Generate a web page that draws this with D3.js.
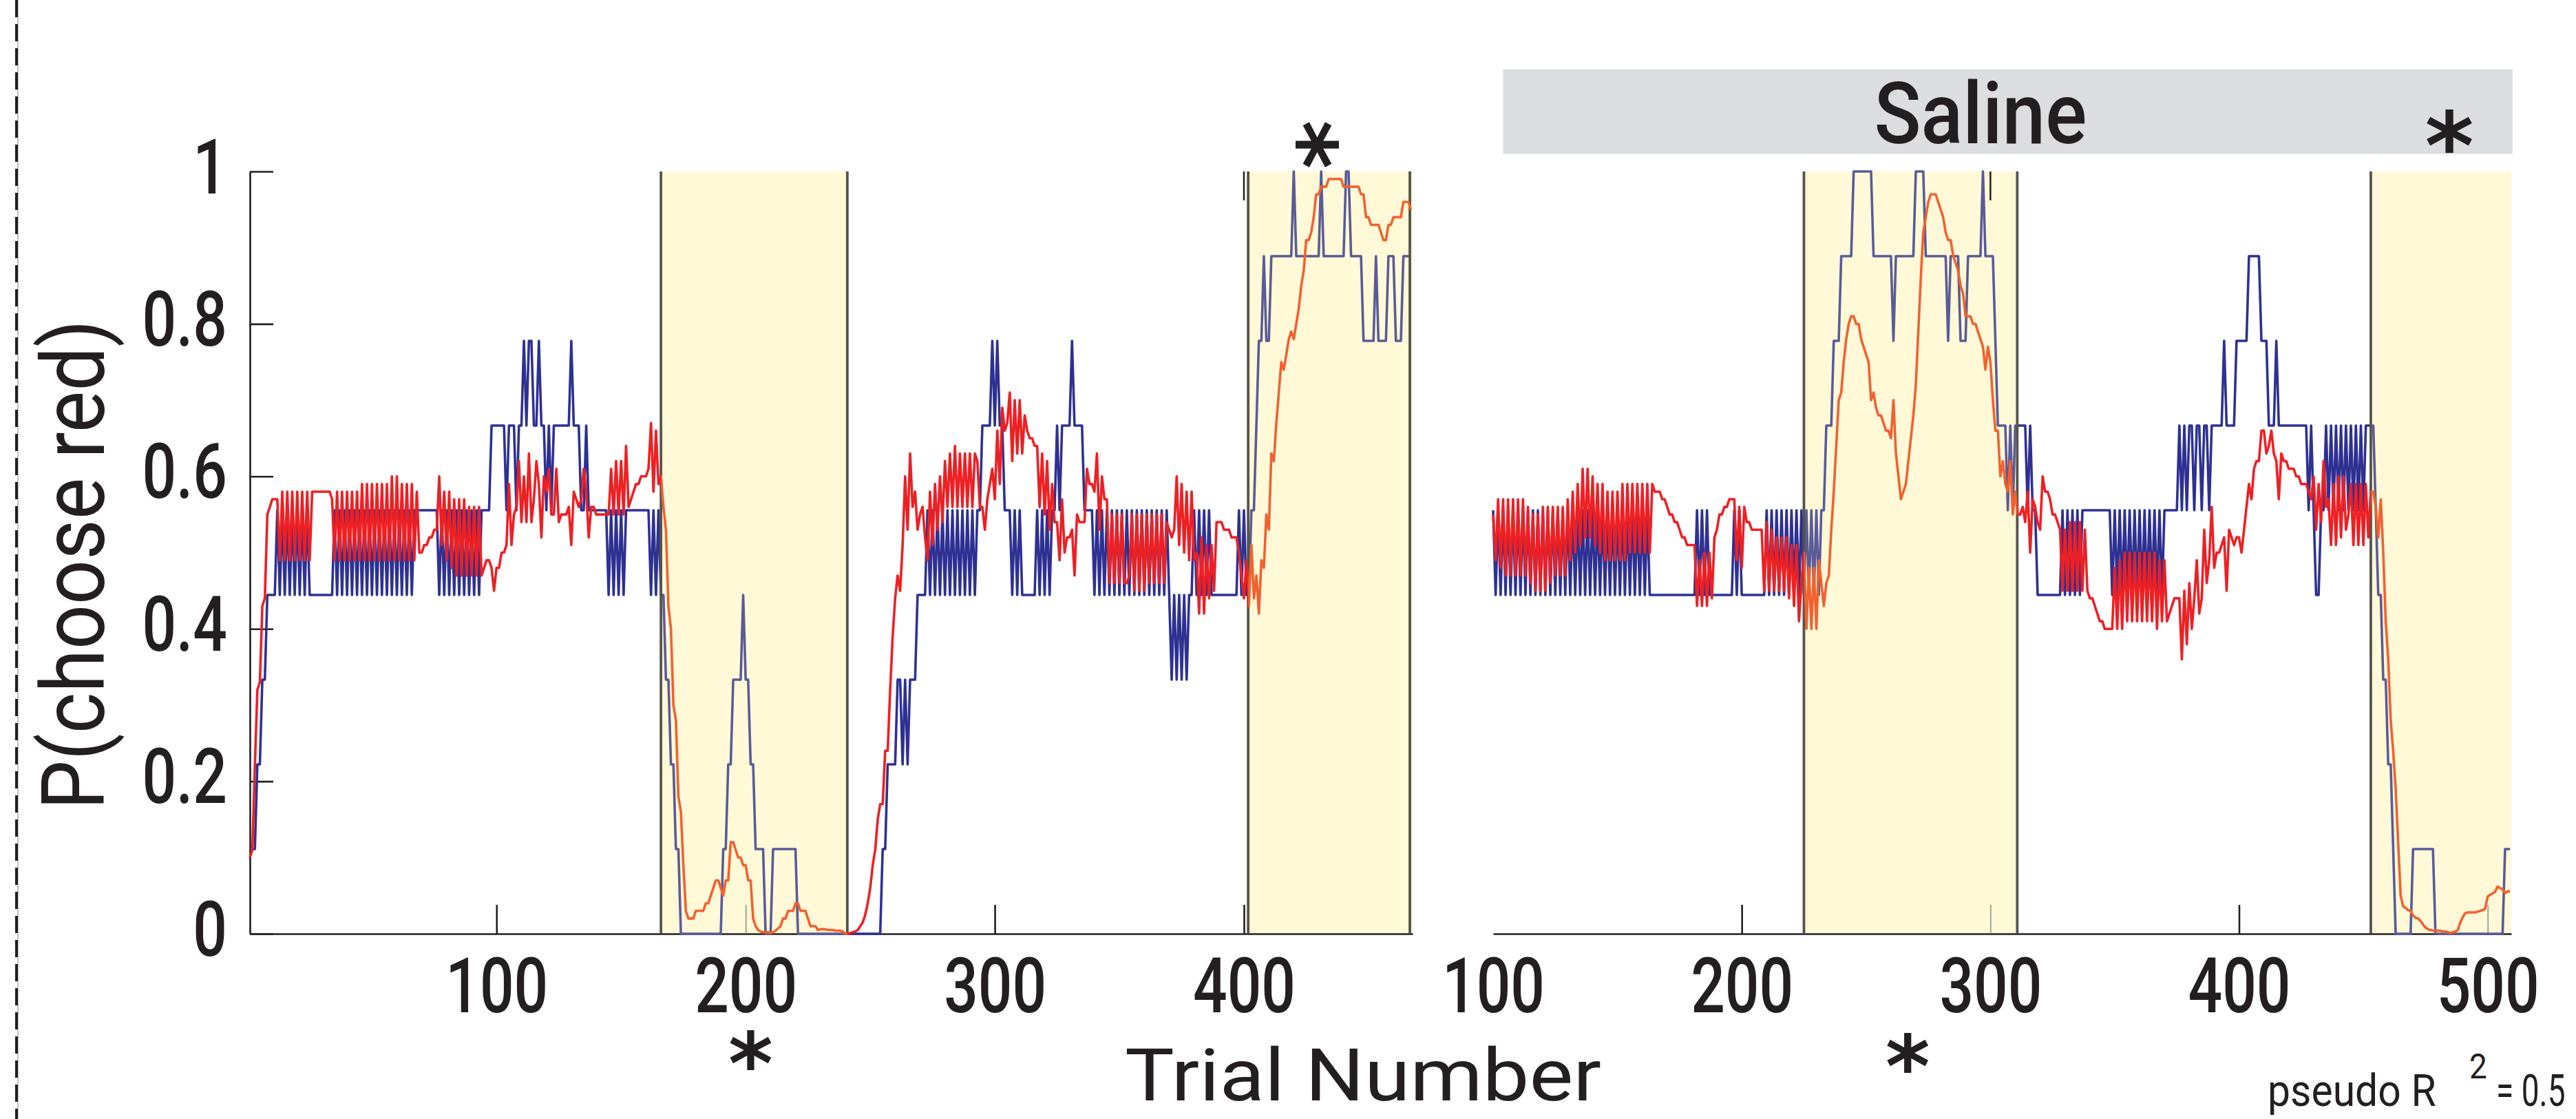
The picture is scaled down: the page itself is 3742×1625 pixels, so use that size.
<!DOCTYPE html>
<html>
<head>
<meta charset="utf-8">
<script src="https://d3js.org/d3.v7.min.js"></script>
<style>
body { margin: 0; background: #fff; }
svg { display: block; font-family: Roboto, "Liberation Sans", sans-serif; }
.axis path, .axis line { stroke: #231f20; stroke-width: 2.6; }
.axis text { fill: #231f20; font-size: 112px; font-weight: 500; font-family: Roboto, sans-serif; }
.lbl { fill: #231f20; }
</style>
</head>
<body>
<svg id="chart" width="3742" height="1625"></svg>
<script>
// ---- data: one value per trial ----
// choice frequency (blue), in ninths
var leftStart = 1;
var leftChoice = [
  1,1,1,2,2,3,3,4,4,4, 4,5,4,5,4,5,4,5,4,5, 4,5,4,5,4,4,4,4,4,4, 4,4,4,4,5,4,5,4,5,4,
  5,4,5,4,5,4,5,4,5,4, 5,4,5,4,5,4,5,4,5,4, 5,4,5,4,5,4,5,5,5,5, 5,5,5,5,5,5,4,5,4,5,
  4,5,4,5,4,5,4,5,4,5, 4,5,4,5,5,5,5,6,6,6, 6,6,6,5,6,6,6,5,6,6, 7,6,7,7,6,6,7,6,6,5,
  6,5,6,6,6,6,6,6,6,7, 6,6,6,5,5,6,5,5,5,5, 5,5,5,5,4,5,4,5,4,5, 4,5,5,5,5,5,5,5,5,5,
  5,4,5,4,5,4,4,3,3,2, 2,1,1,0,0,0,0,0,0,0, 0,0,0,0,0,0,0,0,0,0, 1,1,2,2,3,3,3,3,4,3,
  3,2,2,1,1,1,1,0,0,0, 1,1,1,1,1,1,1,1,1,1, 0,0,0,0,0,0,0,0,0,0, 0,0,0,0,0,0,0,0,0,0,
  0,0,0,0,0,0,0,0,0,0, 0,0,0,0,1,1,2,2,2,2, 3,3,2,3,2,3,3,3,4,4, 4,4,5,4,5,4,5,4,5,4,
  5,4,5,4,5,4,5,4,5,4, 5,4,5,5,6,6,6,6,7,6, 7,6,6,5,5,5,4,5,4,5, 4,4,4,4,4,4,5,4,5,4,
  5,4,5,5,6,5,6,6,6,6, 7,6,6,6,6,5,5,5,5,4, 5,4,5,4,5,4,5,4,5,4, 5,4,5,4,5,4,5,4,5,4,
  5,4,5,4,5,4,5,4,5,4, 3,4,3,4,3,4,3,4,4,5, 4,5,4,5,4,5,4,4,4,4, 4,4,4,4,4,4,4,5,4,5,
  4,4,5,5,6,7,7,8,7,7, 8,8,8,8,8,8,8,8,8,9, 8,8,8,8,8,8,8,8,8,8, 9,8,8,8,8,8,8,8,8,8,
  9,9,8,8,8,8,8,7,7,7, 7,7,8,7,7,7,7,8,8,8, 7,7,7,8,8,8,8
];
// model P(choose red), percent
var leftModel = [
  10,11,22,32,33,43,44,55,56,57, 57,57,49,58,49,58,49,58,49,58, 49,58,49,58,49,58,58,58,58,58,
  58,58,58,57,49,58,49,58,49,58, 49,58,49,58,49,59,49,59,49,59, 49,59,49,59,49,59,49,60,49,60,
  49,59,49,59,49,59,49,58,50,50, 51,51,52,52,53,53,60,51,58,49, 58,48,57,47,57,47,57,47,56,47,
  56,47,56,47,48,49,49,48,45,48, 48,50,50,51,59,51,55,56,62,54, 60,54,63,54,57,62,59,52,60,58,
  61,55,55,61,54,55,55,55,56,51, 58,57,56,57,61,58,52,56,56,55, 55,55,55,55,55,61,55,62,55,62,
  55,64,56,57,58,59,59,60,60,60, 61,67,58,66,59,60,56,53,43,40, 30,28,18,16,9,3,2,2,2,3,
  3,3,3,4,4,5,6,7,7,6, 5,7,7,12,12,11,10,10,9,9, 7,7,2,1,0.5,0.3,0.2,0.2,0.2,0.1,
  0.2,0.4,0.7,1,2,2,3,3,3,4, 4,3,3,3,2,1,1,1,0.5,0.6, 0.6,0.6,0.5,0.5,0.5,0.4,0.4,0.4,0.3,0,
  0,0.1,0.2,0.3,0.5,1,1.5,2.5,4,6, 9,11,15,17,17,24,24,32,39,44, 47,45,51,60,53,63,56,58,53,55,
  56,52,49,58,51,59,53,60,54,62, 56,63,56,64,56,63,56,63,56,63, 56,63,62,56,56,53,57,59,61,57,
  66,59,69,66,67,71,62,70,63,70, 63,68,66,65,65,64,64,56,63,55, 62,53,59,54,54,49,57,50,52,52,
  53,47,55,54,54,54,61,59,59,58, 63,53,60,57,57,46,55,46,55,46, 55,46,46,47,55,45,55,45,55,45,
  55,46,55,46,55,46,55,46,54,53, 52,53,60,51,59,50,58,49,58,49, 50,42,52,42,51,44,51,45,54,54,
  54,53,53,53,52,52,52,50,47,44, 49,43,51,44,47,42,49,48,55,53, 63,62,67,71,75,74,76,78,79,78,
  80,82,85,87,91,91,92,94,97,97, 98,98,98,99,99,99,99,99,99,98, 98,98,98,98,98,98,97,97,94,94,
  93,93,93,93,92,91,91,93,93,94, 94,94,94,96,96,96,95
];
var rightStart = 100;
var rightChoice = [
  5,4,5,4,5,4,5,4,5,4, 5,4,5,4,5,4,5,4,5,4, 5,4,5,4,5,4,5,4,5,4, 5,4,5,4,5,4,5,4,5,4,
  5,4,5,4,5,4,5,4,5,4, 5,4,5,4,5,4,5,4,5,4, 5,4,5,4,4,4,4,4,4,4, 4,4,4,4,4,4,4,4,4,4,
  4,4,5,4,5,4,5,4,4,4, 4,4,4,4,4,4,4,5,4,5, 4,4,4,4,4,4,4,4,4,4, 5,4,5,4,5,4,5,4,5,4,
  5,4,5,4,5,4,5,4,5,4, 5,4,5,5,6,6,6,7,7,7, 8,8,8,8,8,9,9,9,9,9, 9,9,9,8,8,8,8,8,8,8,
  8,7,8,8,8,8,8,8,8,8, 9,9,9,9,8,8,8,8,8,8, 8,8,8,7,8,8,8,8,7,7, 7,8,8,8,8,8,8,9,8,8,
  8,8,7,6,6,6,6,5,6,5, 6,6,6,6,6,5,6,5,5,4, 4,4,4,4,4,4,4,4,4,5, 4,5,4,5,4,5,4,5,5,5,
  5,5,5,5,5,5,5,5,5,4, 5,4,5,4,5,4,5,4,5,4, 5,4,5,4,5,4,5,4,5,4, 5,5,5,5,5,5,6,5,6,5,
  6,6,5,6,6,5,6,6,5,6, 6,6,6,6,7,6,6,6,6,7, 7,7,7,7,8,8,8,8,8,7, 7,7,6,6,6,7,6,6,6,6,
  6,6,6,6,6,6,6,6,5,6, 5,4,4,5,5,6,5,6,5,6, 5,6,5,6,5,6,5,6,5,6, 5,6,6,6,6,5,4,4,3,3,
  2,2,1,0,0,0,0,0,0,0, 1,1,1,1,1,1,1,1,1,0, 0,0,0,0,0,0,0,0,0,0, 0,0,0,0,0,0,0,0,0,0,
  0,0,0,0,0,0,0,1,1,1
];
var rightModel = [
  55,49,57,48,57,47,57,47,57,47, 57,47,57,47,56,46,55,45,55,45, 56,45,56,46,56,47,56,47,56,47,
  57,49,58,50,59,51,61,52,61,52, 60,51,59,50,59,49,58,49,58,49, 58,49,59,49,59,50,59,50,59,50,
  59,50,59,50,59,58,58,58,57,57, 56,55,55,54,54,53,52,52,51,51, 51,51,43,49,43,50,43,50,44,52,
  53,55,55,56,56,57,57,57,49,56, 48,56,54,54,53,53,53,53,53,45, 54,45,53,45,52,45,52,45,52,44,
  51,43,51,41,46,50,40,48,40,48, 40,49,46,43,46,47,53,58,64,70, 71,75,78,80,81,81,80,80,78,77,
  76,75,70,71,69,68,68,67,66,66, 65,70,63,60,57,58,59,62,65,68, 72,79,86,92,94,96,97,97,97,96,
  95,94,92,91,91,89,88,87,85,84, 81,81,81,80,80,79,78,77,74,77, 75,70,66,66,60,62,59,58,62,55,
  58,55,55,56,54,58,50,57,56,54, 53,60,58,58,57,55,55,54,53,45, 53,45,54,45,54,45,54,45,53,45,
  44,44,43,42,41,41,40,40,40,40, 48,40,49,40,50,41,50,41,50,41, 50,41,50,41,50,41,50,40,49,41,
  49,41,42,43,44,44,44,36,45,38, 46,40,44,49,42,44,53,46,49,56, 48,50,50,51,52,45,53,52,51,52,
  52,50,53,56,59,57,61,62,62,66, 66,63,64,66,63,62,57,63,62,62, 61,61,61,60,60,59,59,59,58,57,
  60,53,59,54,62,56,57,51,59,51, 60,52,60,53,55,59,51,59,51,59, 51,59,52,58,58,56,52,57,50,41,
  36,28,24,19,12,5,3.6,3.4,3.1,3, 2.4,2.1,2,1.7,1.2,0.8,0.6,0.5,0.4,0.4,
  0.4,0.4,0.3,0.3,0.2,0.1,0.2,0.3,0.5,1.5, 2.2,2.7,2.8,2.8,2.8,2.8,2.9,3,3.1,3.3,
  4.9,5.1,5.3,5.5,6.2,6,5.8,5.3,5.6,5.5
];
// shaded blocks (trial spans) and their edge lines
var leftPhases = [[166, 240.8], [401.7, 467.7]];
var rightPhases = [[225, 310.8], [453, 509.5]];
var leftEdges = [166, 240.8, 401.7, 466.6];
var rightEdges = [225, 310.8, 453];
// ticks
var yTicks = [0, 0.2, 0.4, 0.6, 0.8, 1];
var leftTicks = [100, 200, 300, 400];
var rightTicks = [100, 200, 300, 400, 500];
var leftTopTicks = [400];
var rightTopTicks = [300];

var W = 3742, H = 1625;
var svg = d3.select("#chart");
var defs = svg.append("defs");

var y = d3.scaleLinear().domain([0, 1]).range([1356, 249]);
var xL = d3.scaleLinear().domain([1, 467.7]).range([363, 2052]);
var xR = d3.scaleLinear().domain([100, 509.5]).range([2169, 3648]);

var navy = "#2e3192", slate = "#5a5b97", red = "#ed2024", orange = "#f26130";
var yellow = "#fff9d8", edgeCol = "#56544a";
var lw = 3.6;

// compress text horizontally (reference face is narrow)
function squeeze(sel, k) {
  sel.each(function() {
    var t = d3.select(this);
    var x0 = +t.attr("x") || 0;
    t.attr("x", x0 / k).attr("transform", "scale(" + k + ",1)");
  });
}

function panel(id, x, start, choice, model, phases, edges, ticks, topTicks, withYAxis) {
  var g = svg.append("g").attr("class", id);
  var d0 = x.domain()[0], d1 = x.domain()[1];

  // clip regions: inside / outside shaded blocks
  var inside = defs.append("clipPath").attr("id", id + "-in");
  phases.forEach(function(p) {
    inside.append("rect").attr("x", x(p[0])).attr("width", x(p[1]) - x(p[0]))
      .attr("y", 0).attr("height", H);
  });
  var outside = defs.append("clipPath").attr("id", id + "-out");
  var cuts = [d0 - 20];
  phases.forEach(function(p) { cuts.push(p[0], p[1]); });
  cuts.push(d1 + 20);
  for (var i = 0; i < cuts.length; i += 2) {
    if (cuts[i + 1] > cuts[i]) {
      outside.append("rect").attr("x", x(cuts[i])).attr("width", x(cuts[i + 1]) - x(cuts[i]))
        .attr("y", 0).attr("height", H);
    }
  }

  g.selectAll("rect.phase").data(phases).enter().append("rect")
    .attr("class", "phase")
    .attr("x", function(p) { return x(p[0]); })
    .attr("width", function(p) { return x(p[1]) - x(p[0]); })
    .attr("y", y(1)).attr("height", y(0) - y(1))
    .attr("fill", yellow);

  // x axis
  var ax = g.append("g").attr("class", "axis")
    .attr("transform", "translate(0," + y(0) + ")")
    .call(d3.axisBottom(x).tickValues(ticks).tickSizeInner(-42).tickSizeOuter(0).tickPadding(33)
      .tickFormat(function(d) { return String(d); }));
  ax.selectAll("text").attr("dy", "0").attr("y", 114).call(squeeze, 0.78);
  ax.selectAll(".tick line").each(function(d) {
    var inBlock = phases.some(function(p) { return d > p[0] && d < p[1]; });
    if (inBlock) d3.select(this).style("stroke", "#8f8d80").style("stroke-width", 1.5);
    if (d === d0) d3.select(this).remove();
  });

  g.selectAll("line.toptick").data(topTicks).enter().append("line")
    .attr("x1", function(d) { return x(d); }).attr("x2", function(d) { return x(d); })
    .attr("y1", y(1)).attr("y2", y(1) + 42)
    .attr("stroke", "#231f20").attr("stroke-width", 2.5);

  if (withYAxis) {
    var ay = g.append("g").attr("class", "axis")
      .attr("transform", "translate(" + x.range()[0] + ",0)")
      .call(d3.axisLeft(y).tickValues(yTicks).tickSizeInner(-34).tickSizeOuter(0).tickPadding(33)
        .tickFormat(function(d) { return String(d); }));
    ay.selectAll("text").attr("dy", "0").attr("y", 31).call(squeeze, 0.78);
  }

  // observed choices
  var lineC = d3.line()
    .x(function(d, i) { return x(start + i); })
    .y(function(d) { return y(d / 9); });
  g.append("path").attr("d", lineC(choice)).attr("fill", "none")
    .attr("stroke", navy).attr("stroke-width", lw).attr("stroke-linejoin", "round")
    .attr("clip-path", "url(#" + id + "-out)");
  g.append("path").attr("d", lineC(choice)).attr("fill", "none")
    .attr("stroke", slate).attr("stroke-width", lw).attr("stroke-linejoin", "round")
    .attr("clip-path", "url(#" + id + "-in)");

  // block edges
  g.selectAll("line.edge").data(edges).enter().append("line")
    .attr("x1", function(d) { return x(d); }).attr("x2", function(d) { return x(d); })
    .attr("y1", y(1)).attr("y2", y(0))
    .attr("stroke", edgeCol).attr("stroke-width", 3.8);

  // model prediction
  var lineM = d3.line()
    .x(function(d, i) { return x(start + i); })
    .y(function(d) { return y(d / 100); });
  g.append("path").attr("d", lineM(model)).attr("fill", "none")
    .attr("stroke", red).attr("stroke-width", lw).attr("stroke-linejoin", "round")
    .attr("clip-path", "url(#" + id + "-out)");
  g.append("path").attr("d", lineM(model)).attr("fill", "none")
    .attr("stroke", orange).attr("stroke-width", lw).attr("stroke-linejoin", "round")
    .attr("clip-path", "url(#" + id + "-in)");
}

panel("left", xL, leftStart, leftChoice, leftModel, leftPhases, leftEdges, leftTicks, leftTopTicks, true);
panel("right", xR, rightStart, rightChoice, rightModel, rightPhases, rightEdges, rightTicks, rightTopTicks, false);

// dashed divider at far left
svg.append("line").attr("x1", 26).attr("x2", 26).attr("y1", 0).attr("y2", H)
  .attr("stroke", "#9a9a9a").attr("stroke-width", 1.2);
svg.append("line").attr("x1", 24).attr("x2", 24).attr("y1", 0).attr("y2", H)
  .attr("stroke", "#231f20").attr("stroke-width", 4).attr("stroke-dasharray", "25,10");

// Saline band
svg.append("rect").attr("x", xR(104)).attr("width", xR(510) - xR(104))
  .attr("y", y(1.134)).attr("height", y(1.023) - y(1.134)).attr("fill", "#dcdddf");
svg.append("text").attr("class", "lbl").attr("x", 2877).attr("y", 208)
  .attr("text-anchor", "middle").attr("font-size", 124).attr("font-weight", 500)
  .attr("textLength", 309).attr("lengthAdjust", "spacingAndGlyphs").text("Saline");

// axis titles
svg.append("text").attr("class", "lbl").attr("x", 1634).attr("y", 1598)
  .attr("font-size", 106).attr("textLength", 692).attr("lengthAdjust", "spacingAndGlyphs")
  .text("Trial Number");
svg.append("text").attr("class", "lbl")
  .attr("transform", "translate(151,820) rotate(-90)")
  .attr("text-anchor", "middle").attr("font-size", 128)
  .attr("textLength", 712).attr("lengthAdjust", "spacingAndGlyphs")
  .text("P(choose red)");

// significance marks (baseline offsets keep the glyph centred on the mark)
var stars = [
  { x: xL(431.2), y: 210, rot: 90, size: 136 },
  { x: xL(202), y: 1520, rot: 0, size: 124 },
  { x: xR(266.7), y: 1524, rot: 0, size: 124 },
  { x: xR(484.6), y: 185, rot: 0, size: 136 }
];
stars.forEach(function(s) {
  svg.append("text").attr("class", "lbl")
    .attr("transform", "translate(" + s.x + "," + s.y + ") rotate(" + s.rot + ")")
    .attr("text-anchor", "middle").attr("y", 0.555 * s.size)
    .attr("font-family", "DejaVu Sans").attr("font-weight", "bold").attr("font-size", s.size)
    .text("*");
});

// fit note at the lower right
svg.append("text").attr("class", "lbl").attr("x", 3294).attr("y", 1606)
  .attr("font-size", 64).text("pseudo R").call(squeeze, 0.92);
svg.append("text").attr("class", "lbl").attr("x", 3587).attr("y", 1566)
  .attr("font-size", 50).text("2").call(squeeze, 0.92);
svg.append("text").attr("class", "lbl").attr("x", 3626).attr("y", 1606)
  .attr("font-size", 64).text("= 0.5").call(squeeze, 0.72);
</script>
</body>
</html>
